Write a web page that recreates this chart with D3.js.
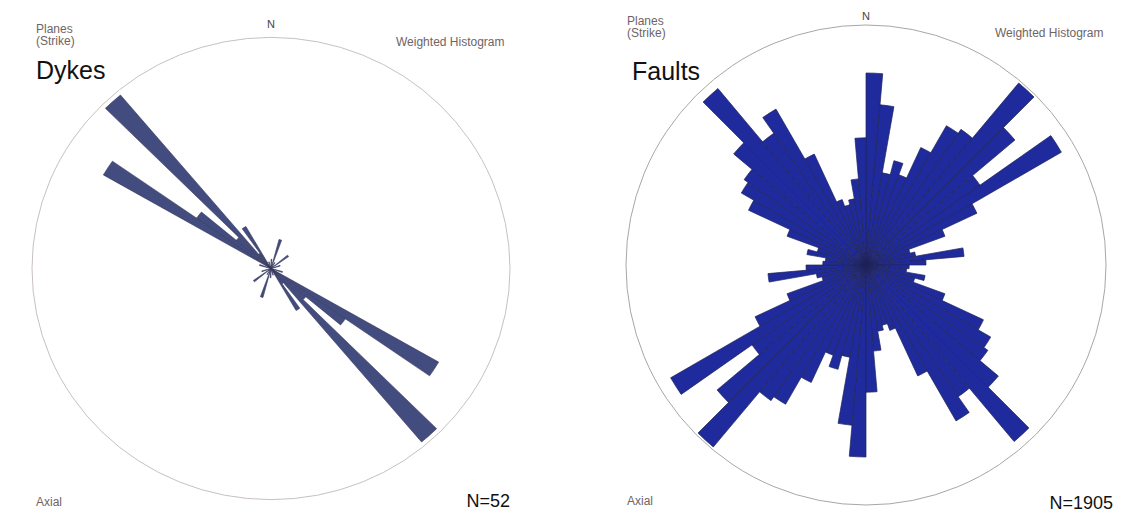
<!DOCTYPE html>
<html><head><meta charset="utf-8">
<script src="https://cdn.jsdelivr.net/npm/d3@7/dist/d3.min.js"></script>
<style>
body{margin:0;background:#fff}
svg{display:block}
text{font-family:"Liberation Sans",Arial,Helvetica,sans-serif}
</style>
</head><body>
<svg id="chart" width="1144" height="519"></svg>
<script>
// ---- DATA ----
// 5-degree strike bins (axial data: each bin is mirrored at +180 deg)
const binStart = [0,5,10,15,20,25,30,35,40,45,50,55,60,65,70,75,80,85,
                  90,95,100,105,110,115,120,125,130,135,140,145,150,155,160,165,170,175];
// weighted histogram values, % of the outer circle radius
const dykesValues = [4,0,0,13,0,0,3,0,0,0,9,0,0,0,4,0,0,0,
                     0,0,0,5,0,0,81,38,19,98,8,21,0,0,3,0,0,0];
const faultsValues = [80,67,39,45,40,54,67,69,99,81,58,94,51,35,19,21,41,25,
                      18,17,25,21,35,54,60,62,72,96,67,75,51,29,26,28,36,53];
const panelTitles = ["Dykes","Faults"];
const countLabels = ["N=52","N=1905"];
const topLeftLabels = ["Planes","(Strike)"];
const northLabel = "N";
const methodLabel = "Weighted Histogram";
const projLabel = "Axial";

const svg = d3.select("#chart");
const binWidth = 5;

function drawPanel(p) {
  const outer = svg.append("g");
  const g = outer.append("g");
  if (p.clipRight) {
    svg.append("clipPath").attr("id","clip"+p.id)
      .append("rect").attr("x",0).attr("y",0).attr("width",p.clipRight).attr("height",519);
    g.attr("clip-path","url(#clip"+p.id+")");
  }
  const rose = g.append("g").attr("transform",`translate(${p.cx},${p.cy}) scale(1,${p.sy})`);
  const r = d3.scaleLinear().domain([0,100]).range([0,p.R]);
  rose.append("circle").attr("r",p.R).attr("fill","none")
    .attr("stroke",p.circle).attr("stroke-width",1).attr("vector-effect","non-scaling-stroke");
  const data = binStart.flatMap((b,i)=>[{a:b,v:p.values[i]},{a:b+180,v:p.values[i]}]).filter(d=>d.v>0);
  const arc = d3.arc().innerRadius(0)
    .outerRadius(d=>r(d.v))
    .startAngle(d=>d.a*Math.PI/180)
    .endAngle(d=>(d.a+binWidth)*Math.PI/180);
  rose.selectAll("path.petal").data(data).join("path").attr("class","petal")
    .attr("d",arc).attr("fill",p.fill).attr("stroke",p.stroke)
    .attr("stroke-width",p.sw).attr("vector-effect","non-scaling-stroke");

  const grey = "#6f6464";
  g.append("text").attr("x",p.cx).attr("y",p.nY).attr("text-anchor","middle")
    .attr("font-size",11).attr("fill","#4a4545").text(northLabel);
  g.append("text").attr("x",p.lx).attr("y",p.labY).attr("font-size",12).attr("fill",grey).text(topLeftLabels[0]);
  g.append("text").attr("x",p.lx).attr("y",p.labY+12).attr("font-size",12).attr("fill",grey).text(topLeftLabels[1]);
  g.append("text").attr("x",p.wx).attr("y",p.wY).attr("font-size",12).attr("fill",grey).text(methodLabel);
  g.append("text").attr("x",p.lx).attr("y",p.aY).attr("font-size",12).attr("fill",grey).text(projLabel);
  outer.append("text").attr("x",p.tx).attr("y",p.tY).attr("font-size",25).attr("fill","#111").text(p.title);
  outer.append("text").attr("x",p.nx).attr("y",p.cY).attr("text-anchor","end")
    .attr("font-size",18).attr("fill","#111").text(p.count);
}

drawPanel({id:0, cx:271, cy:268.5, R:239, sy:0.967, values:dykesValues,
  fill:"#434c7e", stroke:"#35375a", sw:0.6, circle:"#c9c0c0",
  nY:28, lx:36, labY:33, wx:396, wY:46, aY:506, tx:36, tY:79,
  title:panelTitles[0], nx:510, cY:507, count:countLabels[0]});

drawPanel({id:1, cx:866, cy:265, R:240, sy:1, values:faultsValues,
  fill:"#1f2b9c", stroke:"#1f2456", sw:0.7, circle:"#a7a7a7", clipRight:1107,
  nY:20, lx:627, labY:25, wx:995, wY:37, aY:505, tx:632, tY:80,
  title:panelTitles[1], nx:1113, cY:509, count:countLabels[1]});
</script>
</body></html>
